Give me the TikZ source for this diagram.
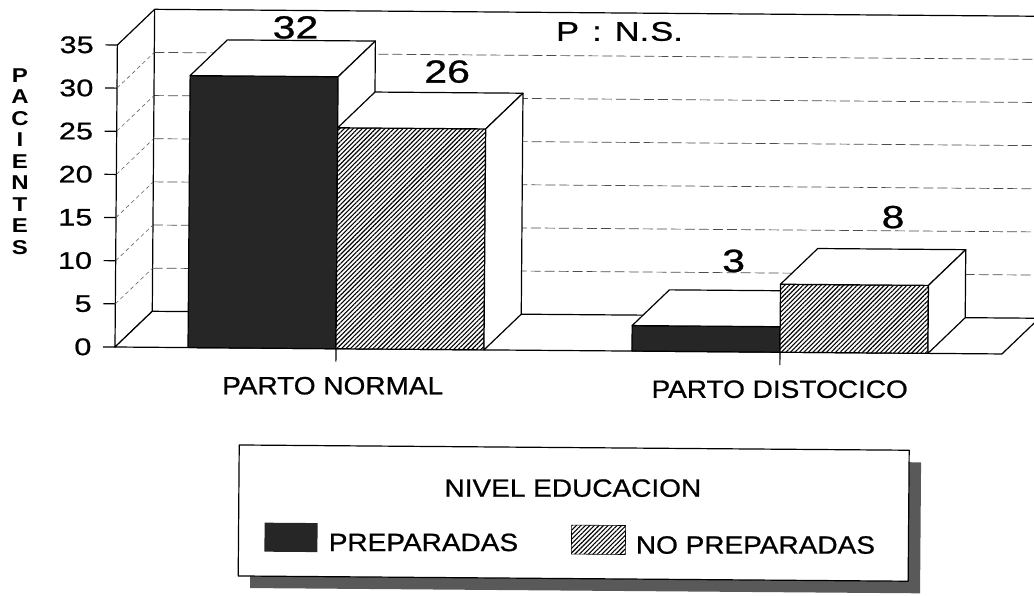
\documentclass[tikz,border=0pt]{standalone}
\usepackage{fontspec}
\setmainfont{Liberation Sans}
\newfontfamily\labfont{Liberation Sans}[FakeStretch=1.12,FakeBold=0.8]
\newfontfamily\numfont{Liberation Sans}[FakeStretch=1.28,FakeBold=0.8]
\newfontfamily\titfont{Liberation Sans Bold}[FakeStretch=1.2]
\usetikzlibrary{patterns.meta}
\newcommand\drawbar[4]{% left x, right x, top y, fill style
  \fill[#4] (#1,347) rectangle (#2,#3);
  \draw (#1,347) rectangle (#2,#3);
  \draw[face] (#1,#3) -- (#1+37,#3-36) -- (#2+37,#3-36) -- (#2,#3) -- cycle;
  \draw[face] (#2,#3) -- (#2+37,#3-36) -- (#2+37,311) -- (#2,347) -- cycle;
}
\begin{document}
\begin{tikzpicture}[x=1pt,y=-1pt,
  line width=1.2pt, line join=round,
  darkfill/.style={fill=black!85},
  hatchfill/.style={preaction={fill=white},pattern={Lines[angle=45,distance=3.2pt,line width=1.1pt]},pattern color=black},
  face/.style={draw=black,fill=white},
  gridline/.style={line width=0.7pt,black!70,dash pattern=on 10pt off 4pt},
  wallgrid/.style={line width=0.6pt,black!60,dash pattern=on 4pt off 3pt},
  ticklab/.style={font=\numfont\fontsize{24}{24}\selectfont,anchor=east,inner sep=0pt},
  vallab/.style={font=\numfont\fontsize{32}{32}\selectfont,inner sep=0pt},
  catlab/.style={font=\labfont\fontsize{25}{25}\selectfont,inner sep=0pt},
]
\useasboundingbox (0,0) rectangle (1034,595);
\clip (0,0) rectangle (1034,595);
\begin{scope}[rotate around={-0.45:(115,347)}]
  % back wall
  \fill[white] (152,9) rectangle (1050,311);
  \draw (152,9) -- (1050,9);
  \foreach \v in {5,10,...,30} {
    \pgfmathsetmacro\yy{347-8.63*\v}
    \draw[gridline] (152,\yy-36) -- (1050,\yy-36);
  }
  % left wall
  \draw[face] (115,347) -- (115,45) -- (152,9) -- (152,311) -- cycle;
  \foreach \v in {5,10,...,30} {
    \pgfmathsetmacro\yy{347-8.63*\v}
    \draw[wallgrid] (115,\yy) -- (152,\yy-36);
  }
  % floor
  \draw[face] (115,347) -- (1002,347) -- (1039,311) -- (152,311) -- cycle;
  % ticks and labels
  \foreach \v in {0,5,...,35} {
    \pgfmathsetmacro\yy{347-8.63*\v}
    \draw (103,\yy) -- (115,\yy);
    \node[ticklab] (t\v) at (92,\yy) {\v};
  }
  \node[align=center,font=\titfont\fontsize{20}{21.5}\selectfont,inner sep=0pt] (ytitle) at (18.5,162) {P\\A\\C\\I\\E\\N\\T\\E\\S};
  % bars
  \drawbar{188}{336}{75}{darkfill}
  \drawbar{336}{484}{126}{hatchfill}
  \drawbar{632}{780}{321.5}{darkfill}
  \drawbar{780}{928}{279}{hatchfill}
  % category ticks
  \draw (336,347) -- (336,360);
  \draw (780,347) -- (780,360);
  % value labels
  \node[vallab] (v32) at (293,26) {32};
  \node[vallab] (v26) at (445,69) {26};
  \node[vallab] (v3) at (733,256) {3};
  \node[vallab] (v8) at (892,211) {8};
  \node[font=\numfont\fontsize{27}{27}\selectfont,inner sep=0pt,anchor=west] (pns) at (553,28) {P\hskip 13pt:\hskip 13pt N.\hskip 1pt S.};
  % category labels
  \node[catlab] (cn) at (333,384) {PARTO NORMAL};
  \node[catlab] (cd) at (780,384) {PARTO DISTOCICO};
  % legend
  \fill[black!65] (252,456) rectangle (922,587);
  \draw[face] (240,444) rectangle (910,575);
  \node[catlab] (ltitle) at (574,484.5) {NIVEL EDUCACION};
  \fill[darkfill] (266,521.5) rectangle (319,550.5);
  \fill[hatchfill] (573,521.5) rectangle (627,550.5);
  \draw[line width=0.6pt] (573,521.5) rectangle (627,550.5);
  \node[catlab] (lp) at (425,540) {PREPARADAS};
  \node[catlab] (lnp) at (757,540) {NO PREPARADAS};
\end{scope}
\end{tikzpicture}
\end{document}
